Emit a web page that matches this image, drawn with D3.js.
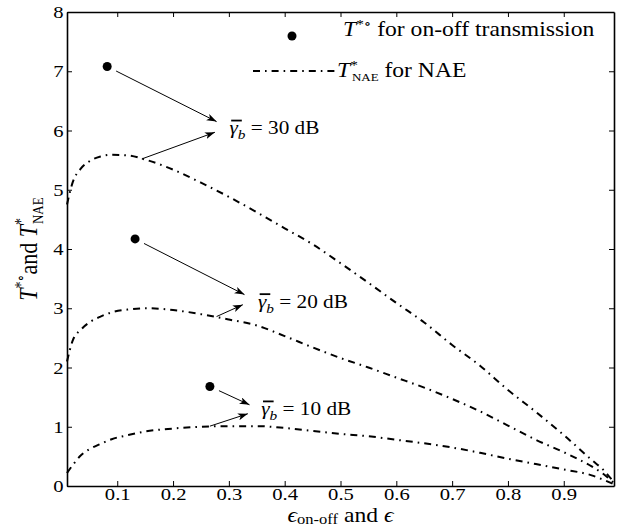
<!DOCTYPE html>
<html>
<head>
<meta charset="utf-8">
<script src="https://cdn.jsdelivr.net/npm/d3@7"></script>
<style>
  body { margin: 0; background: #fff; }
  svg text { font-family: "Liberation Serif", "DejaVu Serif", serif !important; fill: #000; }
</style>
</head>
<body>
<div id="chart"></div>
<script>
// data
var eps = [0.01, 0.02, 0.035, 0.05, 0.07, 0.09, 0.12, 0.15, 0.2, 0.25, 0.3, 0.35, 0.4,
           0.45, 0.5, 0.55, 0.6, 0.65, 0.7, 0.75, 0.8, 0.85, 0.9, 0.95, 0.97, 0.99];
var nae30 = [4.75, 5.12, 5.36, 5.48, 5.56, 5.59, 5.58, 5.51, 5.34, 5.12, 4.88, 4.62, 4.35,
             4.08, 3.76, 3.43, 3.09, 2.76, 2.38, 2.03, 1.62, 1.25, 0.86, 0.44, 0.28, 0.06];
var nae20 = [2.1, 2.45, 2.64, 2.76, 2.86, 2.93, 2.98, 3.0, 2.97, 2.9, 2.81, 2.71, 2.53,
             2.34, 2.16, 2.0, 1.83, 1.66, 1.47, 1.26, 1.02, 0.78, 0.57, 0.33, 0.21, 0.05];
var nae10 = [0.22, 0.35, 0.52, 0.62, 0.71, 0.79, 0.86, 0.92, 0.97, 1.0, 1.01, 1.01, 0.98,
             0.93, 0.88, 0.84, 0.78, 0.72, 0.65, 0.56, 0.46, 0.37, 0.28, 0.18, 0.11, 0.03];

var onoffEps = [0.082, 0.132, 0.266];
var onoffT = [7.08, 4.17, 1.68];
var snrLabels = ["30 dB", "20 dB", "10 dB"];

var xTicks = [0.1, 0.2, 0.3, 0.4, 0.5, 0.6, 0.7, 0.8, 0.9];
var yTicks = [0, 1, 2, 3, 4, 5, 6, 7, 8];

// annotation anchors (data units)
var labelPos = [[0.301, 5.94], [0.352, 3.01], [0.358, 1.20]];
var upperTips = [[0.278, 6.15], [0.328, 3.23], [0.337, 1.37]];
var lowerTips = [[0.275, 5.97], [0.325, 3.06], [0.334, 1.22]];
var curveFrom = [[0.144, 5.52], [0.278, 2.86], [0.266, 1.01]];

var svgWidth = 626, svgHeight = 527;
var margin = {top: 12, right: 12, bottom: 41, left: 67};
var width = svgWidth - margin.left - margin.right;
var height = svgHeight - margin.top - margin.bottom;
var stretch = 1.18;   // the source figure's text is wider than tall
var dashes = "7,5,1.6,5";
var serif = "'Liberation Serif', 'DejaVu Serif', serif";

var svg = d3.select("#chart").append("svg")
    .attr("width", svgWidth)
    .attr("height", svgHeight)
    .style("font-family", serif);

svg.append("defs").append("marker")
    .attr("id", "arrow")
    .attr("markerUnits", "userSpaceOnUse")
    .attr("markerWidth", 12).attr("markerHeight", 8)
    .attr("refX", 10).attr("refY", 3.5)
    .attr("orient", "auto")
    .append("path")
    .attr("d", "M0,0 L10,3.5 L0,7 L2.5,3.5 Z")
    .attr("fill", "#000");

var chart = svg.append("g")
    .attr("transform", `translate(${margin.left},${margin.top})`);

var x = d3.scaleLinear().domain([0.01, 0.99]).range([0, width]);
var y = d3.scaleLinear().domain([0, 8]).range([height, 0]);

// axes, ticks inward on all four sides
function styleAxis(g) {
  g.attr("font-family", null);
  g.select(".domain").attr("stroke", "#000").attr("stroke-width", 1.6);
  g.selectAll(".tick line").attr("stroke", "#000").attr("stroke-width", 1);
  g.selectAll(".tick text")
    .attr("font-size", 17.5)
    .style("font-family", serif)
    .attr("fill", "#000")
    .attr("transform", `scale(${stretch},1)`);
}

chart.append("g")
    .attr("transform", `translate(0,${height})`)
    .call(d3.axisBottom(x).tickValues(xTicks).tickFormat(d3.format(".1f"))
      .tickSizeInner(-5).tickSizeOuter(0).tickPadding(2))
    .call(styleAxis);

chart.append("g")
    .call(d3.axisTop(x).tickValues(xTicks).tickFormat("")
      .tickSizeInner(-5).tickSizeOuter(0))
    .call(styleAxis);

chart.append("g")
    .call(d3.axisLeft(y).tickValues(yTicks).tickFormat(d3.format("d"))
      .tickSizeInner(-5).tickSizeOuter(0).tickPadding(3))
    .call(styleAxis);

chart.append("g")
    .attr("transform", `translate(${width},0)`)
    .call(d3.axisRight(y).tickValues(yTicks).tickFormat("")
      .tickSizeInner(-5).tickSizeOuter(0))
    .call(styleAxis);

// NAE curves
var line = d3.line()
    .x(d => x(d[0]))
    .y(d => y(d[1]))
    .curve(d3.curveMonotoneX);

[nae30, nae20, nae10].forEach(function (series) {
  chart.append("path")
    .datum(eps.map((e, i) => [e, series[i]]))
    .attr("d", line)
    .attr("fill", "none")
    .attr("stroke", "#000")
    .attr("stroke-width", 2)
    .attr("stroke-dasharray", dashes);
});

// on-off points
chart.selectAll("circle.pt")
    .data(onoffEps.map((e, i) => [e, onoffT[i]]))
    .enter()
    .append("circle")
    .attr("class", "pt")
    .attr("cx", d => x(d[0]))
    .attr("cy", d => y(d[1]))
    .attr("r", 4.5)
    .attr("fill", "#000");

// arrows + labels
snrLabels.forEach(function (lab, i) {
  var px = x(onoffEps[i]), py = y(onoffT[i]);
  var tx = x(upperTips[i][0]), ty = y(upperTips[i][1]);
  var len = Math.hypot(tx - px, ty - py);
  chart.append("line")
    .attr("x1", px + (tx - px) / len * 10).attr("y1", py + (ty - py) / len * 10)
    .attr("x2", tx).attr("y2", ty)
    .attr("stroke", "#000").attr("stroke-width", 1)
    .attr("marker-end", "url(#arrow)");
  chart.append("line")
    .attr("x1", x(curveFrom[i][0])).attr("y1", y(curveFrom[i][1]))
    .attr("x2", x(lowerTips[i][0])).attr("y2", y(lowerTips[i][1]))
    .attr("stroke", "#000").attr("stroke-width", 1)
    .attr("marker-end", "url(#arrow)");

  var g = chart.append("g")
    .attr("transform", `translate(${x(labelPos[i][0])},${y(labelPos[i][1])}) scale(${stretch},1)`);
  // overline of the mean symbol
  g.append("line")
    .attr("x1", 1.5).attr("x2", 10.5).attr("y1", -13.5).attr("y2", -13.5)
    .attr("stroke", "#000").attr("stroke-width", 1.8);
  var t = g.append("text").attr("font-size", 18);
  t.append("tspan").attr("font-style", "italic").text("γ");
  t.append("tspan").attr("font-style", "italic").attr("font-size", 13)
    .attr("dy", 5).text("b");
  t.append("tspan").attr("dy", -5).text(" = " + lab);
});

// legend
var legend = svg.append("g");
legend.append("circle")
    .attr("cx", 292).attr("cy", 36).attr("r", 4.5).attr("fill", "#000");
var l1 = legend.append("text")
    .attr("transform", `translate(343,36) scale(${stretch},1)`)
    .attr("font-size", 20);
l1.append("tspan").attr("font-style", "italic").text("T");
l1.append("tspan").attr("font-size", 13).attr("dy", -8).text("*∘");
l1.append("tspan").attr("dy", 8).text(" for on-off transmission");

legend.append("line")
    .attr("x1", 253).attr("x2", 337).attr("y1", 71).attr("y2", 71)
    .attr("stroke", "#000").attr("stroke-width", 2)
    .attr("stroke-dasharray", dashes);
var l2 = legend.append("text")
    .attr("transform", `translate(337,77) scale(${stretch},1)`)
    .attr("font-size", 20);
l2.append("tspan").attr("font-style", "italic").text("T");
l2.append("tspan").attr("font-size", 13).attr("dy", -8).text("*");
l2.append("tspan").attr("font-size", 11).attr("dx", -5).attr("dy", 12).text("NAE");
l2.append("tspan").attr("dy", -4).text(" for NAE");

// axis titles
var xt = svg.append("text")
    .attr("transform", `translate(${margin.left + width / 2},522) scale(${stretch},1)`)
    .attr("text-anchor", "middle")
    .attr("font-size", 20);
xt.append("tspan").attr("font-style", "italic").text("ϵ");
xt.append("tspan").attr("font-size", 14).attr("dy", 2).text("on-off");
xt.append("tspan").attr("dy", -2).text(" and ");
xt.append("tspan").attr("font-style", "italic").text("ϵ");

var yt = svg.append("text")
    .attr("transform", `translate(37,${margin.top + height / 2}) scale(${stretch},1) rotate(-90)`)
    .attr("text-anchor", "middle")
    .attr("font-size", 22);
yt.append("tspan").attr("font-style", "italic").text("T");
yt.append("tspan").attr("font-size", 14).attr("dy", -9).text("*∘");
yt.append("tspan").attr("dy", 9).text("and ");
yt.append("tspan").attr("font-style", "italic").text("T");
yt.append("tspan").attr("font-size", 14).attr("dy", -9).text("*");
yt.append("tspan").attr("font-size", 13).attr("dx", -6).attr("dy", 14).text("NAE");
</script>
</body>
</html>
